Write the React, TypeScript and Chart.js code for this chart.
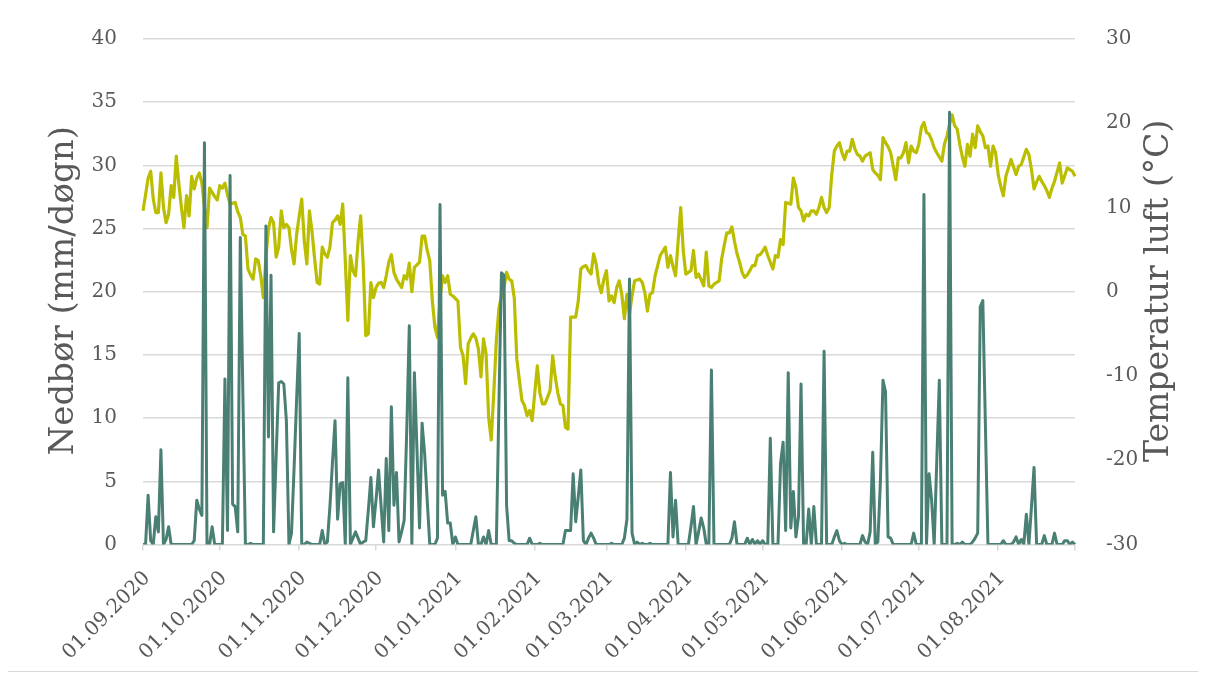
import { useEffect, useRef } from 'react';
import { Chart, registerables } from 'chart.js';

Chart.register(...registerables);

// ---- data ----
const firstDay = { year: 2020, month: 9, day: 1 };
const dayCount = 365;

const monthTickLabels = [
  '01.09.2020', '01.10.2020', '01.11.2020', '01.12.2020', '01.01.2021', '01.02.2021',
  '01.03.2021', '01.04.2021', '01.05.2021', '01.06.2021', '01.07.2021', '01.08.2021',
];

const leftAxisTitle = 'Nedbør (mm/døgn)';
const rightAxisTitle = 'Temperatur luft (°C)';

// Daily precipitation (mm/døgn), 01.09.2020 – 31.08.2021
const precipitation = [
  0, 0, 3.9, 0.3, 0, 2.2, 1.0, 7.5, 0, 0.4,
  1.4, 0, 0, 0, 0, 0, 0, 0, 0, 0,
  0.3, 3.5, 2.8, 2.3, 31.8, 0, 0, 1.4, 0, 0,
  0, 0, 13.1, 1.1, 29.2, 3.2, 3.0, 1.0, 24.3, 12.0,
  0, 0, 0.1, 0, 0, 0, 0, 0, 25.2, 8.5,
  21.3, 1.0, 7.0, 12.8, 12.9, 12.7, 9.8, 0, 0.9, 6.0,
  11.5, 16.7, 0, 0, 0.2, 0.1, 0, 0, 0, 0,
  1.1, 0, 0.2, 3.0, 6.5, 9.8, 2.0, 4.8, 4.9, 0,
  13.2, 0, 0.5, 1.0, 0.5, 0, 0.2, 0.3, 2.7, 5.3,
  1.4, 3.5, 5.9, 3.0, 0.2, 6.8, 1.1, 10.9, 3.1, 5.7,
  0.2, 1.0, 1.9, 9.0, 17.3, 0, 13.6, 7.5, 1.3, 9.6,
  7.2, 3.5, 0, 0, 0, 0.5, 26.9, 3.9, 4.2, 1.7,
  1.7, 0, 0.6, 0, 0, 0, 0, 0, 0, 1.1,
  2.2, 0, 0, 0.6, 0, 1.1, 0, 0, 0, 11.0,
  21.5, 21.3, 3.1, 0.3, 0.3, 0.1, 0, 0, 0, 0,
  0, 0.5, 0, 0, 0, 0.1, 0, 0, 0, 0,
  0, 0, 0, 0, 0, 1.1, 1.1, 1.1, 5.6, 1.8,
  3.8, 5.9, 0.3, 0, 0.5, 0.9, 0.5, 0, 0, 0,
  0, 0, 0, 0.1, 0, 0, 0, 0, 0.5, 2.0,
  21.0, 0.9, 0, 0.2, 0, 0.1, 0, 0, 0.1, 0,
  0, 0, 0, 0, 0, 0, 5.7, 0.6, 3.5, 0,
  0, 0, 0, 0, 1.4, 3.0, 0, 1.0, 2.1, 1.3,
  0, 0, 13.8, 0, 0, 0, 0, 0, 0, 0,
  0.5, 1.8, 0, 0, 0, 0, 0.5, 0, 0.4, 0,
  0.3, 0, 0.3, 0, 0, 8.4, 0, 0, 0, 6.4,
  8.1, 1.1, 13.6, 1.3, 4.2, 0.6, 2.2, 12.7, 0, 0,
  2.8, 0, 3.0, 0, 0, 0, 15.3, 0, 0, 0,
  0.6, 1.1, 0.3, 0, 0.1, 0, 0, 0, 0, 0,
  0, 0.7, 0.2, 0, 1.0, 7.3, 0, 0.2, 5.0, 13.0,
  12.1, 0.6, 0.5, 0, 0, 0, 0, 0, 0, 0,
  0, 0.9, 0, 0, 0, 27.7, 0, 5.6, 3.5, 0,
  6.5, 13.0, 0, 0, 0, 34.2, 0, 0, 0.1, 0,
  0.2, 0, 0, 0, 0.2, 0.5, 0.9, 18.8, 19.3, 9.5,
  0, 0, 0, 0, 0, 0, 0.3, 0, 0, 0,
  0.2, 0.6, 0, 0.4, 0, 2.4, 0, 3.0, 6.1, 0,
  0, 0, 0.7, 0, 0, 0, 0.9, 0, 0, 0,
  0.3, 0.3, 0, 0.2, 0,
];

// Daily mean air temperature (°C)
const temperature = [
  9.6, 11.5, 13.5, 14.3, 11.0, 9.4, 9.4, 14.1, 10.0, 8.2,
  9.2, 12.6, 11.2, 16.1, 12.8, 10.0, 7.6, 11.4, 9.0, 13.7,
  12.2, 13.5, 14.1, 12.9, 10.0, 7.6, 12.3, 11.8, 11.3, 10.9,
  12.6, 12.3, 12.9, 11.5, 10.4, 10.5, 10.6, 9.5, 8.8, 6.8,
  6.6, 2.7, 2.0, 1.5, 3.9, 3.7, 1.9, -0.7, 4.0, 7.5,
  8.8, 8.2, 4.1, 5.3, 9.6, 7.6, 8.0, 7.6, 5.0, 3.3,
  6.8, 9.0, 11.0, 6.0, 3.3, 9.6, 7.2, 4.0, 1.1, 0.9,
  5.3, 4.5, 4.1, 5.3, 8.2, 8.5, 9.0, 8.0, 10.4, 3.7,
  -3.4, 4.3, 2.5, 1.9, 6.0, 9.0, 3.3, -5.2, -5.0, 1.1,
  -0.7, 0.5, 1.0, 1.1, 0.5, 1.9, 3.5, 4.4, 2.3, 1.5,
  1.0, 0.5, 1.9, 1.5, 3.4, 0.0, 2.9, 3.2, 3.5, 6.6,
  6.6, 4.9, 3.7, -1.1, -4.2, -5.4, -1.0, 1.9, 1.1, 1.9,
  -0.3, -0.5, -0.8, -1.1, -6.6, -7.6, -10.9, -6.2, -5.5, -5.0,
  -5.5, -6.8, -10.1, -5.6, -7.4, -14.9, -17.6, -12.0, -5.8, -2.0,
  -0.5, 0.5, 2.3, 1.5, 1.3, -0.7, -8.0, -10.5, -12.9, -13.5,
  -14.7, -14.1, -15.3, -12.0, -8.8, -12.0, -13.3, -13.3, -12.5, -11.7,
  -7.6, -10.1, -12.0, -13.3, -13.5, -16.1, -16.3, -3.0, -3.0, -3.0,
  -1.1, 2.7, 3.0, 3.1, 2.5, 2.1, 4.5, 3.3, 1.0, -0.1,
  1.5, 2.5, -1.1, -0.5, -1.3, 0.5, 1.3, -0.3, -3.2, -0.3,
  -2.6, -0.5, 1.3, 1.4, 1.5, 1.1, -0.1, -2.3, -0.3, -0.1,
  1.9, 3.1, 4.3, 4.8, 5.3, 2.9, 4.3, 3.0, 1.9, 6.0,
  10.0, 4.9, 2.1, 2.3, 2.5, 4.9, 1.7, 2.1, 1.4, 0.7,
  4.7, 0.7, 0.5, 0.9, 1.1, 1.3, 3.9, 5.5, 7.0, 7.0,
  7.7, 6.0, 4.5, 3.5, 2.3, 1.7, 2.0, 2.5, 3.1, 3.1,
  4.3, 4.4, 4.8, 5.3, 4.3, 3.5, 2.7, 4.3, 4.1, 6.2,
  5.6, 10.6, 10.5, 10.4, 13.5, 12.4, 10.0, 9.6, 8.4, 9.2,
  9.0, 9.6, 9.6, 9.2, 10.0, 11.2, 10.0, 9.4, 10.0, 13.9,
  16.7, 17.3, 17.7, 16.5, 15.7, 16.7, 16.7, 18.1, 17.0, 16.3,
  16.1, 15.5, 16.1, 16.3, 16.5, 14.5, 14.1, 13.8, 13.3, 18.3,
  17.7, 17.2, 16.5, 14.9, 13.3, 15.9, 15.9, 16.5, 17.7, 15.3,
  17.3, 16.7, 16.5, 17.5, 19.5, 20.1, 18.9, 18.7, 18.0, 17.1,
  16.5, 16.0, 15.5, 17.5, 18.5, 19.9, 21.0, 19.7, 19.3, 17.5,
  16.0, 14.9, 17.5, 16.1, 18.7, 17.1, 19.7, 19.0, 18.5, 17.1,
  17.3, 14.9, 17.3, 16.5, 13.9, 12.5, 11.4, 13.7, 14.7, 15.7,
  14.8, 13.9, 14.9, 15.1, 16.0, 16.9, 16.3, 14.5, 12.2, 13.0,
  13.7, 13.1, 12.6, 12.0, 11.2, 12.3, 13.1, 14.2, 15.3, 12.9,
  13.8, 14.7, 14.5, 14.3, 13.7,
];

const precipMin = 0;
const precipMax = 40;
const precipStep = 5;
const tempMin = -30;
const tempMax = 30;
const tempStep = 10;

// ---- helpers ----
function pad2(n: number): string {
  return n < 10 ? '0' + n : String(n);
}

function makeDayLabels(): string[] {
  const out: string[] = [];
  const d = new Date(Date.UTC(firstDay.year, firstDay.month - 1, firstDay.day));
  for (let i = 0; i < dayCount; i++) {
    out.push(pad2(d.getUTCDate()) + '.' + pad2(d.getUTCMonth() + 1) + '.' + d.getUTCFullYear());
    d.setUTCDate(d.getUTCDate() + 1);
  }
  return out;
}

const TEXT_COLOR = '#595959';
const GRID_COLOR = '#D9D9D9';
const FONT_FAMILY = '"DejaVu Serif", "Liberation Serif", serif';

const axisTitlePlugin = {
  id: 'axisTitles',
  afterDraw(chart: any) {
    const { ctx, chartArea } = chart;
    const cy = (chartArea.top + chartArea.bottom) / 2 - 1;
    ctx.save();
    ctx.fillStyle = TEXT_COLOR;
    ctx.textAlign = 'center';
    ctx.textBaseline = 'middle';
    const draw = (text: string, x: number, size: number) => {
      ctx.save();
      ctx.font = size + 'px ' + FONT_FAMILY;
      ctx.translate(x, cy);
      ctx.rotate(-Math.PI / 2);
      ctx.fillText(text, 0, 0);
      ctx.restore();
    };
    draw(leftAxisTitle, 56, 34);
    draw(rightAxisTitle, chart.width - 47, 33);
    ctx.restore();
  },
};

export default function App() {
  const canvasRef = useRef<HTMLCanvasElement | null>(null);

  useEffect(() => {
    if (!canvasRef.current) return;
    const labels = makeDayLabels();
    const lastIndex = labels.length - 1;
    const tickFont = { family: FONT_FAMILY, size: 20 };

    const chart = new Chart(canvasRef.current, {
      type: 'line',
      data: {
        labels,
        datasets: [
          {
            label: 'Nedbør',
            data: precipitation,
            yAxisID: 'y',
            borderColor: '#4A7F74',
            backgroundColor: '#4A7F74',
            borderWidth: 3,
            pointRadius: 0,
            tension: 0,
            borderJoinStyle: 'round',
            fill: false,
          },
          {
            label: 'Temperatur',
            data: temperature,
            yAxisID: 'y1',
            borderColor: '#BBBE00',
            backgroundColor: '#BBBE00',
            borderWidth: 3.2,
            pointRadius: 0,
            tension: 0,
            borderJoinStyle: 'round',
            fill: false,
          },
        ],
      },
      options: {
        animation: false,
        responsive: true,
        maintainAspectRatio: false,
        layout: { padding: { top: 31, left: 0, right: 0, bottom: 0 } },
        plugins: {
          legend: { display: false },
          tooltip: { enabled: false },
          title: { display: false },
        },
        scales: {
          x: {
            type: 'category',
            offset: false,
            border: { display: false },
            grid: {
              display: true,
              drawOnChartArea: false,
              drawTicks: true,
              tickLength: 6,
              color: GRID_COLOR,
              lineWidth: 1.5,
            },
            ticks: {
              autoSkip: false,
              minRotation: 45,
              maxRotation: 45,
              padding: 16,
              labelOffset: 4,
              color: TEXT_COLOR,
              font: tickFont,
              callback: function (this: any, value: any) {
                const lab = labels[value as number];
                return monthTickLabels.includes(lab) ? lab : '';
              },
            },
            afterBuildTicks: (scale: any) => {
              scale.ticks = scale.ticks.filter(
                (t: any) => monthTickLabels.includes(labels[t.value]) || t.value === lastIndex
              );
            },
            afterFit: (scale: any) => {
              scale.height = 126.5;
            },
          },
          y: {
            position: 'left',
            min: precipMin,
            max: precipMax,
            border: { display: false },
            grid: { color: GRID_COLOR, lineWidth: 1.5, drawTicks: false },
            ticks: {
              stepSize: precipStep,
              padding: 26,
              color: TEXT_COLOR,
              font: tickFont,
            },
            afterFit: (scale: any) => {
              scale.width = 135;
              scale.paddingTop = 0;
              scale.paddingBottom = 0;
            },
          },
          y1: {
            position: 'right',
            min: tempMin,
            max: tempMax,
            border: { display: false },
            grid: { display: false, drawOnChartArea: false, drawTicks: false },
            ticks: {
              stepSize: tempStep,
              padding: 31,
              color: TEXT_COLOR,
              font: tickFont,
            },
            afterFit: (scale: any) => {
              scale.width = 131;
              scale.paddingTop = 0;
              scale.paddingBottom = 0;
            },
          },
        },
      } as any,
      plugins: [axisTitlePlugin],
    });

    return () => {
      chart.destroy();
    };
  }, []);

  return (
    <div
      style={{
        position: 'relative',
        width: 1198,
        height: 663,
        border: '1px solid #D9D9D9',
        margin: '-1px 0 0 -1px',
        background: '#FFFFFF',
      }}
    >
      <canvas ref={canvasRef} />
    </div>
  );
}
